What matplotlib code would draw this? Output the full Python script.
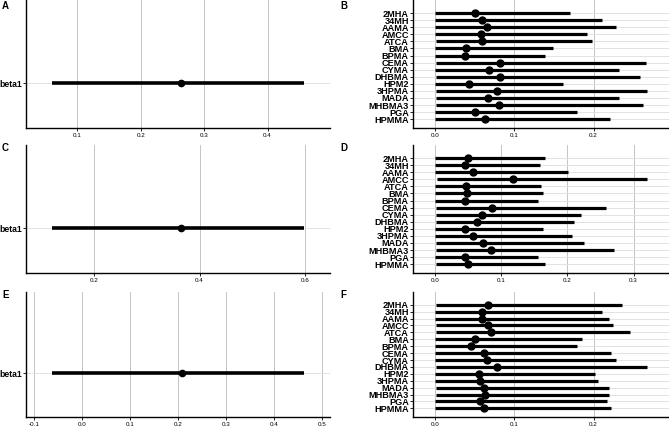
import matplotlib
matplotlib.use("Agg")
import matplotlib.pyplot as plt
from matplotlib.ticker import MultipleLocator, FormatStrFormatter

plt.rcParams["font.family"] = ["Liberation Sans", "DejaVu Sans"]

# single-coefficient panels (A, C, E): estimate, low, high
beta_labels = ["beta1"]
a_est, a_lo, a_hi = [0.263], [0.0605], [0.457]
c_est, c_lo, c_hi = [0.364], [0.120], [0.598]
e_est, e_lo, e_hi = [0.208], [-0.0624], [0.462]

# metabolite panels (B, D, F)
metabolites = ["2MHA", "34MH", "AAMA", "AMCC", "ATCA", "BMA", "BPMA", "CEMA",
               "CYMA", "DHBMA", "HPM2", "3HPMA", "MADA", "MHBMA3", "PGA", "HPMMA"]

b_est = [0.0505, 0.059, 0.066, 0.0577, 0.059, 0.039, 0.038, 0.082,
         0.068, 0.0817, 0.043, 0.078, 0.0674, 0.081, 0.051, 0.063]
b_lo = [0.0005, 0.0005, 0.0005, 0.0005, 0.0015, 0.0005, 0.0005, 0.0015,
        0.0005, 0.0015, 0.0005, 0.0015, 0.002, 0.0015, 0.0005, 0.0005]
b_hi = [0.1697, 0.2105, 0.228, 0.1916, 0.198, 0.1486, 0.139, 0.266,
        0.2316, 0.258, 0.161, 0.267, 0.232, 0.262, 0.179, 0.2206]

d_est = [0.0504, 0.0454, 0.058, 0.1185, 0.047, 0.049, 0.0454, 0.0857,
         0.0716, 0.063, 0.046, 0.058, 0.0721, 0.0852, 0.0454, 0.0494]
d_lo = [0.0005, 0.0005, 0.0005, 0.0025, 0.0005, 0.0005, 0.0005, 0.0015,
        0.0015, 0.0015, 0.0005, 0.0005, 0.0015, 0.0015, 0.0005, 0.001]
d_hi = [0.1664, 0.158, 0.2007, 0.320, 0.1604, 0.164, 0.155, 0.2587,
        0.220, 0.2098, 0.163, 0.2068, 0.2259, 0.270, 0.156, 0.1664]

f_est = [0.0665, 0.060, 0.059, 0.0665, 0.071, 0.0505, 0.045, 0.062,
         0.0657, 0.078, 0.0556, 0.057, 0.062, 0.0627, 0.057, 0.062]
f_lo = [0.0015, 0.0005, 0.0005, 0.0015, 0.0015, 0.0005, 0.0005, 0.0005,
        0.0005, 0.0015, 0.0005, 0.0005, 0.001, 0.001, 0.0005, 0.0005]
f_hi = [0.2358, 0.2105, 0.220, 0.224, 0.246, 0.185, 0.179, 0.222,
        0.228, 0.267, 0.202, 0.206, 0.220, 0.219, 0.217, 0.222]


def style_axis(ax, step):
    for side in ["top", "right"]:
        ax.spines[side].set_visible(False)
    for side in ["left", "bottom"]:
        ax.spines[side].set_linewidth(1.0)
        ax.spines[side].set_color("black")
    ax.xaxis.set_major_locator(MultipleLocator(step))
    ax.xaxis.set_major_formatter(FormatStrFormatter("%.1f"))
    ax.tick_params(axis="x", labelsize=4.5, length=2, width=0.6, pad=1.5)
    ax.tick_params(axis="y", length=2, width=0.6, pad=1)
    ax.grid(axis="x", color="#c4c4c4", linewidth=0.7)
    ax.grid(axis="y", color="#e2e2e2", linewidth=0.7)
    ax.set_axisbelow(True)


def set_xlim(ax, lo, hi):
    span = max(hi) - min(lo)
    ax.set_xlim(min(lo) - 0.105 * span, max(hi) + 0.105 * span)


def beta_panel(ax, est, lo, hi, step):
    ys = list(range(len(beta_labels)))
    ax.hlines(ys, lo, hi, color="black", linewidth=2.6)
    ax.plot(est, ys, "o", color="black", markersize=4.5)
    ax.set_yticks(ys)
    ax.set_yticklabels(beta_labels, fontsize=6.2, fontweight="bold")
    ax.set_ylim(-0.35, 0.65)
    set_xlim(ax, lo, hi)
    style_axis(ax, step)


def metab_panel(ax, est, lo, hi, step):
    ys = list(range(len(metabolites)))
    ax.hlines(ys, lo, hi, color="black", linewidth=2.3)
    ax.plot(est, ys, "o", color="black", markersize=5)
    ax.set_yticks(ys)
    ax.set_yticklabels(metabolites, fontsize=6.6, fontweight="bold",
                       family=["Liberation Sans Narrow", "Liberation Sans"])
    ax.set_ylim(len(metabolites) - 1 + 1.25, -1.85)
    set_xlim(ax, lo, hi)
    style_axis(ax, step)


fig = plt.figure(figsize=(6.69, 4.26), dpi=100)
W, H = 669.0, 426.0

rows = [(0, 128), (145, 273), (292, 417)]
left_x = (26, 330)
right_x = (413, 669)


def add_ax(xs, ys):
    return fig.add_axes([xs[0] / W, 1 - ys[1] / H, (xs[1] - xs[0]) / W, (ys[1] - ys[0]) / H])


ax_a = add_ax(left_x, rows[0])
ax_b = add_ax(right_x, rows[0])
ax_c = add_ax(left_x, rows[1])
ax_d = add_ax(right_x, rows[1])
ax_e = add_ax(left_x, rows[2])
ax_f = add_ax(right_x, rows[2])

beta_panel(ax_a, a_est, a_lo, a_hi, 0.1)
beta_panel(ax_c, c_est, c_lo, c_hi, 0.2)
beta_panel(ax_e, e_est, e_lo, e_hi, 0.1)
metab_panel(ax_b, b_est, b_lo, b_hi, 0.1)
metab_panel(ax_d, d_est, d_lo, d_hi, 0.1)
metab_panel(ax_f, f_est, f_lo, f_hi, 0.1)

# panel letters
for letter, (px, py) in zip("ABCDEF", [(2, 6), (340, 6), (2, 148), (340, 148), (2, 295), (340, 295)]):
    fig.text(px / W, 1 - py / H, letter, fontsize=7, fontweight="bold", va="center", ha="left")

fig.savefig("out.png", dpi=100)
